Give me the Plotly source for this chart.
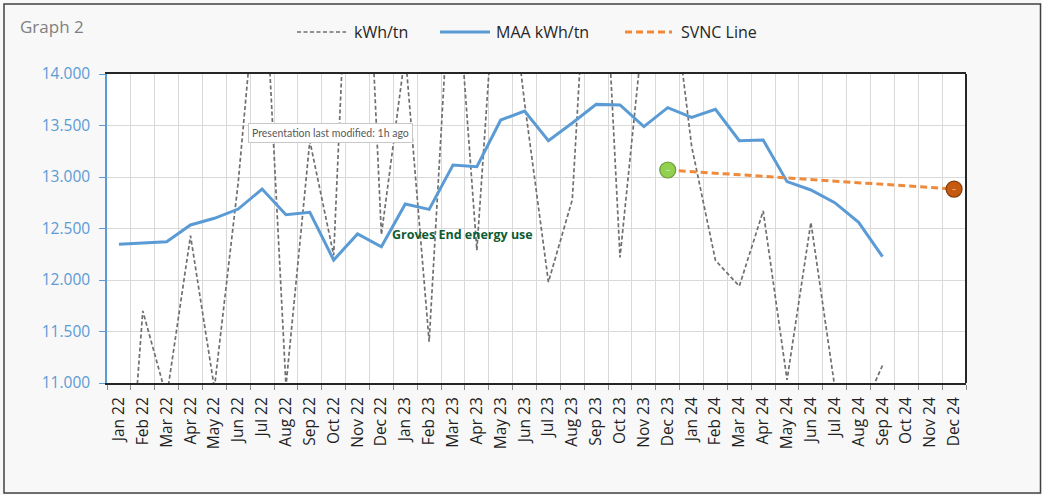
import plotly.graph_objects as go

# ---------------- data ----------------
months = ["Jan 22", "Feb 22", "Mar 22", "Apr 22", "May 22", "Jun 22", "Jul 22", "Aug 22",
          "Sep 22", "Oct 22", "Nov 22", "Dec 22", "Jan 23", "Feb 23", "Mar 23", "Apr 23",
          "May 23", "Jun 23", "Jul 23", "Aug 23", "Sep 23", "Oct 23", "Nov 23", "Dec 23",
          "Jan 24", "Feb 24", "Mar 24", "Apr 24", "May 24", "Jun 24", "Jul 24", "Aug 24",
          "Sep 24", "Oct 24", "Nov 24", "Dec 24"]

kwh_tn = [8.60, 11.70, 10.86, 12.43, 10.95, 12.95, 15.50, 10.97,
          13.35, 12.24, 17.50, 12.44, 14.20, 11.40, 15.45, 12.29,
          15.70, 13.72, 11.98, 12.78, 16.80, 12.22, 14.50, 15.20,
          13.30, 12.19, 11.94, 12.67, 11.03, 12.56, 10.96, 10.65,
          11.17, None, None, None]

maa_kwh_tn = [12.347, 12.362, 12.372, 12.534, 12.599, 12.689, 12.883, 12.634,
              12.657, 12.194, 12.447, 12.323, 12.738, 12.686, 13.117, 13.100,
              13.553, 13.641, 13.352, 13.524, 13.705, 13.699, 13.489, 13.673,
              13.579, 13.657, 13.353, 13.359, 12.955, 12.874, 12.751, 12.560,
              12.227, None, None, None]

svnc_x = ["Dec 23", "Dec 24"]
svnc_y = [13.068, 12.883]

series_names = ["kWh/tn", "MAA kWh/tn", "SVNC Line"]
y_range = [11.0, 14.0]

# ---------------- layout geometry ----------------
W, H = 1042, 495
L, R, T, B = 107, 76, 74, 112
PW, PH = W - L - R, H - T - B


def px(xp):
    return (xp - L) / PW


def py(yp):
    return (H - B - yp) / PH


FONT = "Open Sans"
BLUE = "#5b9bd5"
GRAY = "#6f6f6f"
ORANGE = "#ef8a3c"
GRAY_DASH = "4px,2.5px"
ORANGE_DASH = "7px,4px"

fig = go.Figure()

fig.add_trace(go.Scatter(
    x=months, y=kwh_tn, name=series_names[0], mode="lines",
    line=dict(color=GRAY, width=1.7, dash=GRAY_DASH),
    connectgaps=False, hoverinfo="skip", showlegend=False))

fig.add_trace(go.Scatter(
    x=months, y=maa_kwh_tn, name=series_names[1], mode="lines",
    line=dict(color=BLUE, width=3), hoverinfo="skip", showlegend=False))

fig.add_trace(go.Scatter(
    x=svnc_x, y=svnc_y, name=series_names[2], mode="lines",
    line=dict(color=ORANGE, width=3, dash=ORANGE_DASH), hoverinfo="skip",
    showlegend=False))

fig.add_trace(go.Scatter(
    x=svnc_x, y=svnc_y, mode="markers+text", showlegend=False,
    text=["–", "–"], textposition="middle center",
    textfont=dict(color="rgba(255,255,255,0.8)", size=8, family=FONT),
    marker=dict(size=16, color=["#92d050", "#c55a11"],
                line=dict(color=["#6a9a3a", "#843c0c"], width=1.2)),
    cliponaxis=False, hoverinfo="skip"))

# ---------------- legend (drawn at the top, centred) ----------------
LEG_Y = 32
legend_items = [
    # (line x0, line x1, text x, colour, width, dash, name)
    (297, 346, 352, GRAY, 1.7, GRAY_DASH, series_names[0]),
    (440, 490, 494, BLUE, 3, "solid", series_names[1]),
    (625, 672, 679, ORANGE, 3, ORANGE_DASH, series_names[2]),
]
legend_shapes = []
legend_annots = []
for x0, x1, tx, col, w, d, nm in legend_items:
    legend_shapes.append(dict(type="line", xref="paper", yref="paper",
                              x0=px(x0), x1=px(x1), y0=py(LEG_Y), y1=py(LEG_Y),
                              line=dict(color=col, width=w, dash=d)))
    legend_annots.append(dict(text=nm, xref="paper", yref="paper",
                              x=px(tx), y=py(LEG_Y), xanchor="left", yanchor="middle",
                              showarrow=False,
                              font=dict(size=16, color="#262626", family=FONT)))

fig.update_layout(
    width=W, height=H, autosize=False,
    margin=dict(l=L, r=R, t=T, b=B),
    paper_bgcolor="#f8f8f8",
    plot_bgcolor="#ffffff",
    font=dict(family=FONT, color="#404040"),
    showlegend=False,
    xaxis=dict(type="category", categoryorder="array", categoryarray=months,
               range=[-0.5, len(months) - 0.5],
               tickson="boundaries", ticks="outside", ticklen=5,
               tickcolor="#8c8c8c", tickwidth=1,
               showgrid=True, gridcolor="#d9d9d9", gridwidth=1,
               tickangle=-90, tickfont=dict(size=15.5, color="#1f1f1f", family=FONT),
               showline=True, linecolor="#262626", linewidth=2, mirror=True,
               ticklabelstandoff=6, zeroline=False, fixedrange=True),
    yaxis=dict(range=y_range, dtick=0.5, tick0=11, tickformat=".3f",
               ticks="outside", ticklen=6, tickcolor=BLUE,
               tickfont=dict(size=15.5, color=BLUE, family=FONT),
               showgrid=True, gridcolor="#d9d9d9", gridwidth=1,
               showline=True, linecolor=BLUE, linewidth=1.5,
               ticklabelstandoff=6, zeroline=False, fixedrange=True),
    shapes=[
        # right border of plot area
        dict(type="line", xref="paper", yref="paper", x0=1, x1=1, y0=0, y1=1,
             line=dict(color="#262626", width=2), layer="above"),
        # outer frame of the chart
        dict(type="rect", xref="paper", yref="paper",
             x0=px(4), x1=px(1040.5), y0=py(493), y1=py(4),
             line=dict(color="#404040", width=1.5), layer="above"),
    ] + legend_shapes,
    annotations=[
        dict(text="Graph 2", xref="paper", yref="paper", x=px(18), y=py(27),
             xanchor="left", yanchor="middle", showarrow=False,
             font=dict(size=17, color="#808080", family=FONT)),
        dict(text="Presentation last modified: 1h ago", xref="paper", yref="paper",
             x=px(330), y=py(133), xanchor="center", yanchor="middle", showarrow=False,
             font=dict(size=10.5, color="#595959", family="Lato"),
             bgcolor="#ffffff", bordercolor="#c8c8c8", borderwidth=1, borderpad=3),
        dict(text="<b>Groves End energy use</b>", xref="paper", yref="paper",
             x=px(462), y=py(234), xanchor="center", yanchor="middle", showarrow=False,
             font=dict(size=12.5, color="#0d5c33", family=FONT)),
    ] + legend_annots,
)

fig.write_html(
    "out.html",
    config={"displayModeBar": False, "staticPlot": False},
    post_script="document.body.style.margin='0';document.body.style.overflow='hidden';"
                "document.documentElement.style.overflow='hidden';",
)
